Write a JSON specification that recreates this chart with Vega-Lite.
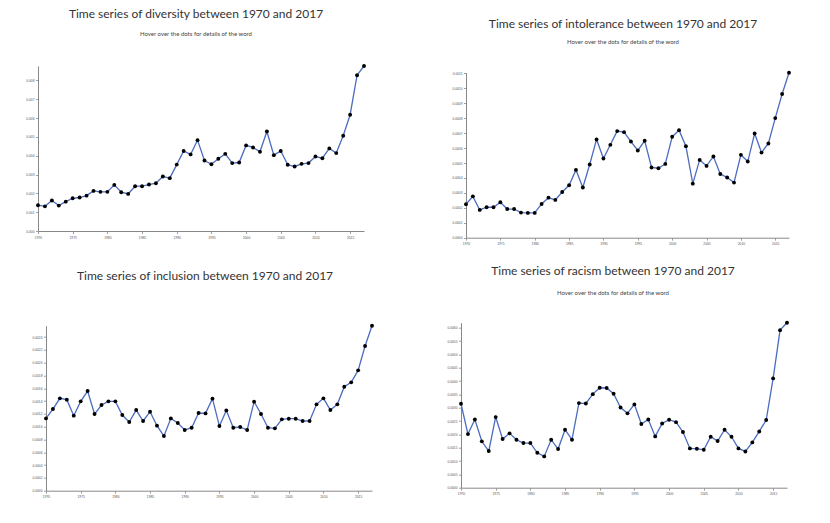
{
  "$schema": "https://vega.github.io/schema/vega-lite/v6.json",
  "padding": {"left": 0, "top": 8, "right": 5, "bottom": 0},
  "background": "white",
  "datasets": {
    "diversity": [
      {"year":1970,"value":0.00137},{"year":1971,"value":0.00131},{"year":1972,"value":0.00162},{"year":1973,"value":0.00135},{"year":1974,"value":0.00156},{"year":1975,"value":0.00174},{"year":1976,"value":0.00178},{"year":1977,"value":0.00188},{"year":1978,"value":0.00213},{"year":1979,"value":0.00208},{"year":1980,"value":0.00208},{"year":1981,"value":0.00245},{"year":1982,"value":0.00206},{"year":1983,"value":0.00197},{"year":1984,"value":0.00238},{"year":1985,"value":0.00238},{"year":1986,"value":0.00247},{"year":1987,"value":0.00254},{"year":1988,"value":0.0029},{"year":1989,"value":0.00281},{"year":1990,"value":0.00353},{"year":1991,"value":0.00425},{"year":1992,"value":0.00407},{"year":1993,"value":0.00483},{"year":1994,"value":0.00375},{"year":1995,"value":0.00355},{"year":1996,"value":0.00384},{"year":1997,"value":0.0041},{"year":1998,"value":0.00361},{"year":1999,"value":0.00364},{"year":2000,"value":0.00455},{"year":2001,"value":0.00444},{"year":2002,"value":0.00421},{"year":2003,"value":0.00529},{"year":2004,"value":0.00403},{"year":2005,"value":0.00425},{"year":2006,"value":0.00352},{"year":2007,"value":0.00343},{"year":2008,"value":0.00357},{"year":2009,"value":0.00361},{"year":2010,"value":0.00396},{"year":2011,"value":0.00387},{"year":2012,"value":0.00439},{"year":2013,"value":0.00414},{"year":2014,"value":0.00506},{"year":2015,"value":0.00618},{"year":2016,"value":0.00828},{"year":2017,"value":0.00877}
    ],
    "intolerance": [
      {"year":1970,"value":0.000224},{"year":1971,"value":0.000277},{"year":1972,"value":0.000186},{"year":1973,"value":0.000204},{"year":1974,"value":0.000204},{"year":1975,"value":0.000237},{"year":1976,"value":0.000192},{"year":1977,"value":0.000192},{"year":1978,"value":0.000168},{"year":1979,"value":0.000166},{"year":1980,"value":0.000166},{"year":1981,"value":0.000226},{"year":1982,"value":0.000268},{"year":1983,"value":0.000253},{"year":1984,"value":0.000306},{"year":1985,"value":0.000351},{"year":1986,"value":0.000454},{"year":1987,"value":0.000336},{"year":1988,"value":0.00049},{"year":1989,"value":0.000658},{"year":1990,"value":0.00053},{"year":1991,"value":0.000622},{"year":1992,"value":0.000714},{"year":1993,"value":0.000707},{"year":1994,"value":0.000644},{"year":1995,"value":0.000584},{"year":1996,"value":0.000649},{"year":1997,"value":0.00047},{"year":1998,"value":0.000465},{"year":1999,"value":0.000494},{"year":2000,"value":0.000676},{"year":2001,"value":0.00072},{"year":2002,"value":0.000613},{"year":2003,"value":0.000362},{"year":2004,"value":0.000521},{"year":2005,"value":0.000481},{"year":2006,"value":0.000544},{"year":2007,"value":0.000427},{"year":2008,"value":0.000403},{"year":2009,"value":0.000369},{"year":2010,"value":0.000555},{"year":2011,"value":0.00051},{"year":2012,"value":0.000698},{"year":2013,"value":0.00057},{"year":2014,"value":0.000631},{"year":2015,"value":0.000801},{"year":2016,"value":0.000962},{"year":2017,"value":0.001105}
    ],
    "inclusion": [
      {"year":1970,"value":0.00113},{"year":1971,"value":0.001276},{"year":1972,"value":0.001443},{"year":1973,"value":0.001422},{"year":1974,"value":0.001172},{"year":1975,"value":0.001396},{"year":1976,"value":0.001557},{"year":1977,"value":0.001198},{"year":1978,"value":0.001339},{"year":1979,"value":0.001396},{"year":1980,"value":0.001396},{"year":1981,"value":0.001182},{"year":1982,"value":0.001073},{"year":1983,"value":0.00126},{"year":1984,"value":0.001089},{"year":1985,"value":0.001234},{"year":1986,"value":0.001016},{"year":1987,"value":0.000854},{"year":1988,"value":0.00113},{"year":1989,"value":0.001057},{"year":1990,"value":0.000948},{"year":1991,"value":0.000984},{"year":1992,"value":0.001214},{"year":1993,"value":0.001208},{"year":1994,"value":0.001438},{"year":1995,"value":0.00101},{"year":1996,"value":0.001255},{"year":1997,"value":0.000984},{"year":1998,"value":0.000995},{"year":1999,"value":0.000948},{"year":2000,"value":0.001391},{"year":2001,"value":0.001198},{"year":2002,"value":0.000984},{"year":2003,"value":0.000974},{"year":2004,"value":0.001115},{"year":2005,"value":0.001125},{"year":2006,"value":0.001125},{"year":2007,"value":0.001089},{"year":2008,"value":0.001089},{"year":2009,"value":0.001349},{"year":2010,"value":0.001443},{"year":2011,"value":0.00126},{"year":2012,"value":0.001349},{"year":2013,"value":0.001625},{"year":2014,"value":0.001693},{"year":2015,"value":0.00188},{"year":2016,"value":0.00226},{"year":2017,"value":0.002578}
    ],
    "racism": [
      {"year":1970,"value":0.00315},{"year":1971,"value":0.00201},{"year":1972,"value":0.00256},{"year":1973,"value":0.00174},{"year":1974,"value":0.001375},{"year":1975,"value":0.00265},{"year":1976,"value":0.001825},{"year":1977,"value":0.00204},{"year":1978,"value":0.0018},{"year":1979,"value":0.001675},{"year":1980,"value":0.001675},{"year":1981,"value":0.00131},{"year":1982,"value":0.001175},{"year":1983,"value":0.0018},{"year":1984,"value":0.00145},{"year":1985,"value":0.002175},{"year":1986,"value":0.0018},{"year":1987,"value":0.003175},{"year":1988,"value":0.00316},{"year":1989,"value":0.00351},{"year":1990,"value":0.00375},{"year":1991,"value":0.00374},{"year":1992,"value":0.003525},{"year":1993,"value":0.00301},{"year":1994,"value":0.00279},{"year":1995,"value":0.003125},{"year":1996,"value":0.00239},{"year":1997,"value":0.00256},{"year":1998,"value":0.001925},{"year":1999,"value":0.00241},{"year":2000,"value":0.00255},{"year":2001,"value":0.00246},{"year":2002,"value":0.00209},{"year":2003,"value":0.001475},{"year":2004,"value":0.00146},{"year":2005,"value":0.001425},{"year":2006,"value":0.00191},{"year":2007,"value":0.00175},{"year":2008,"value":0.002175},{"year":2009,"value":0.00191},{"year":2010,"value":0.001475},{"year":2011,"value":0.00136},{"year":2012,"value":0.0017},{"year":2013,"value":0.00211},{"year":2014,"value":0.00254},{"year":2015,"value":0.0041},{"year":2016,"value":0.00591},{"year":2017,"value":0.00619}
    ]
  },
  "concat": [
    {
      "width": 326, "height": 165,
      "title": {"text": "Time series of diversity between 1970 and 2017", "subtitle": "Hover over the dots for details of the word", "offset": 25.8, "subtitlePadding": 9.5, "dx": -5},
      "data": {"name": "diversity"},
      "encoding": {
        "x": {"field": "year", "type": "quantitative", "scale": {"domain": [1970, 2017], "nice": false, "zero": false}, "axis": {"title": null, "format": "d", "values": [1970,1975,1980,1985,1990,1995,2000,2005,2010,2015]}},
        "y": {"field": "value", "type": "quantitative", "scale": {"zero": true, "nice": false}, "axis": {"title": null, "tickCount": 10, "minExtent": 38, "maxExtent": 200}}
      },
      "layer": [
        {"mark": {"type": "line", "color": "#4c6cc0", "strokeWidth": 1.3}},
        {"mark": {"type": "circle", "color": "#000000", "opacity": 1, "size": 15}}
      ]
    },
    {
      "width": 323, "height": 171.7,
      "title": {"text": "Time series of intolerance between 1970 and 2017", "subtitle": "Hover over the dots for details of the word", "offset": 19.6, "subtitlePadding": 8.4, "dx": -4.5},
      "data": {"name": "intolerance"},
      "encoding": {
        "x": {"field": "year", "type": "quantitative", "scale": {"domain": [1970, 2017], "nice": false, "zero": false}, "axis": {"title": null, "format": "d", "values": [1970,1975,1980,1985,1990,1995,2000,2005,2010,2015]}},
        "y": {"field": "value", "type": "quantitative", "scale": {"zero": true, "nice": false, "range": [171.7, 6.7]}, "axis": {"title": null, "tickCount": 10, "minExtent": 81, "maxExtent": 200}}
      },
      "layer": [
        {"mark": {"type": "line", "color": "#4c6cc0", "strokeWidth": 1.3}},
        {"mark": {"type": "circle", "color": "#000000", "opacity": 1, "size": 15}}
      ]
    },
    {
      "width": 334, "height": 165,
      "title": {"text": ["", "Time series of inclusion between 1970 and 2017"], "lineHeight": 6, "offset": 40.5},
      "data": {"name": "inclusion"},
      "encoding": {
        "x": {"field": "year", "type": "quantitative", "scale": {"domain": [1970, 2017], "nice": false, "zero": false, "range": [8, 334]}, "axis": {"title": null, "format": "d", "values": [1970,1975,1980,1985,1990,1995,2000,2005,2010,2015]}},
        "y": {"field": "value", "type": "quantitative", "scale": {"zero": true, "nice": false}, "axis": {"title": null, "tickCount": 10, "offset": -8, "minExtent": 10, "maxExtent": 200}}
      },
      "layer": [
        {"mark": {"type": "line", "color": "#4c6cc0", "strokeWidth": 1.3}},
        {"mark": {"type": "circle", "color": "#000000", "opacity": 1, "size": 15}}
      ]
    },
    {
      "width": 326, "height": 165,
      "title": {"text": ["", "Time series of racism between 1970 and 2017"], "lineHeight": 2, "subtitle": "Hover over the dots for details of the word", "offset": 22.7, "subtitlePadding": 12, "dx": -11},
      "data": {"name": "racism"},
      "encoding": {
        "x": {"field": "year", "type": "quantitative", "scale": {"domain": [1970, 2017], "nice": false, "zero": false}, "axis": {"title": null, "format": "d", "values": [1970,1975,1980,1985,1990,1995,2000,2005,2010,2015]}},
        "y": {"field": "value", "type": "quantitative", "scale": {"zero": true, "nice": false}, "axis": {"title": null, "tickCount": 10, "minExtent": 76, "maxExtent": 200}}
      },
      "layer": [
        {"mark": {"type": "line", "color": "#4c6cc0", "strokeWidth": 1.3}},
        {"mark": {"type": "circle", "color": "#000000", "opacity": 1, "size": 15}}
      ]
    }
  ],
  "columns": 2,
  "align": "none",
  "spacing": {"row": 17.7, "column": 10},
  "config": {
    "view": {"stroke": null},
    "axis": {"grid": false, "labelFont": "Liberation Sans", "labelFontSize": 3.3, "labelColor": "#555555", "domainColor": "#888888", "tickColor": "#888888", "tickSize": 2.5, "labelPadding": 1.5, "domainWidth": 1, "tickWidth": 0.8, "labelFlush": false, "labelOverlap": false},
    "title": {"font": "Lato", "fontSize": 12, "fontWeight": "normal", "color": "#333333", "subtitleFont": "Lato", "subtitleFontSize": 6, "subtitleColor": "#444444", "anchor": "middle", "frame": "group"}
  }
}
